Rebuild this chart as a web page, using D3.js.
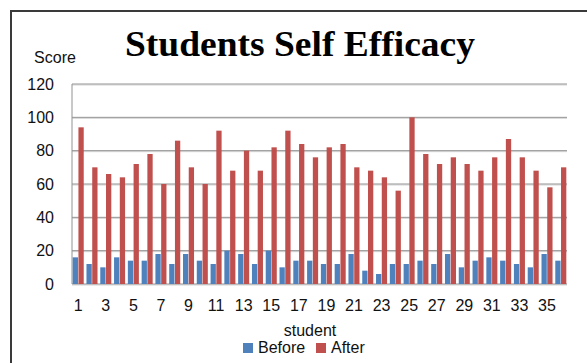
<!DOCTYPE html>
<html>
<head>
<meta charset="utf-8">
<script src="https://cdn.jsdelivr.net/npm/d3@7"></script>
<style>
body{margin:0;background:#fff;}
svg text{font-family:"Liberation Sans",Arial,sans-serif;fill:#111;}
</style>
</head>
<body>
<div id="chart"></div>
<script>
// data
var students = d3.range(1, 37);
var series = ["Before", "After"];
var before = [16,12,10,16,14,14,18,12,18,14,12,20,18,12,20,10,14,14,12,12,18,8,6,12,12,14,12,18,10,14,16,14,12,10,18,14];
var after  = [94,70,66,64,72,78,60,86,70,60,92,68,80,68,82,92,84,76,82,84,70,68,64,56,100,78,72,76,72,68,76,87,76,68,58,70];
var yTicks = [0,20,40,60,80,100,120];
var colors = ["#4f81bd", "#c0504d"];

var w = 587, h = 363;
var plot = {left:72, right:567, top:84, bottom:284};

var svg = d3.select("#chart").append("svg")
  .attr("width", w).attr("height", h);

// outer frame (runs off the right and bottom edge)
svg.append("rect")
  .attr("x", 11).attr("y", 11)
  .attr("width", 700).attr("height", 500)
  .attr("fill", "none")
  .attr("stroke", "#3a3a3a")
  .attr("stroke-width", 2);

var x0 = d3.scaleBand()
  .domain(students)
  .range([plot.left, plot.right])
  .paddingInner(0.2)
  .paddingOuter(0.05);

var x1 = d3.scaleBand()
  .domain(series)
  .range([0, x0.bandwidth()])
  .paddingInner(0.08);

var y = d3.scaleLinear()
  .domain([0, 120])
  .range([plot.bottom, plot.top]);

// gridlines
var grid = svg.append("g");
grid.selectAll("line.shadow")
  .data(yTicks)
  .enter().append("line")
  .attr("class", "shadow")
  .attr("x1", plot.left).attr("x2", plot.right)
  .attr("y1", function(d){ return y(d) + 1; })
  .attr("y2", function(d){ return y(d) + 1; })
  .attr("stroke", "#d4d4d4");
grid.selectAll("line.main")
  .data(yTicks)
  .enter().append("line")
  .attr("class", "main")
  .attr("x1", plot.left).attr("x2", plot.right)
  .attr("y1", function(d){ return y(d); })
  .attr("y2", function(d){ return y(d); })
  .attr("stroke", "#929292");

// y axis line
svg.append("line")
  .attr("x1", plot.left).attr("x2", plot.left)
  .attr("y1", y(120)).attr("y2", y(0))
  .attr("stroke", "#929292");

// bars
var groups = svg.selectAll("g.student")
  .data(students)
  .enter().append("g")
  .attr("class", "student")
  .attr("transform", function(d){ return "translate(" + x0(d) + ",0)"; });

groups.selectAll("rect")
  .data(function(d, i){ return [{s:"Before", v:before[i]}, {s:"After", v:after[i]}]; })
  .enter().append("rect")
  .attr("x", function(d){ return x1(d.s); })
  .attr("y", function(d){ return y(d.v); })
  .attr("width", x1.bandwidth())
  .attr("height", function(d){ return y(0) - y(d.v); })
  .attr("fill", function(d){ return colors[series.indexOf(d.s)]; });

// y axis labels
var yAxis = svg.append("g")
  .attr("transform", "translate(" + plot.left + ",0)")
  .call(d3.axisLeft(y).tickValues(yTicks).tickSize(0).tickPadding(18));
yAxis.select(".domain").remove();
yAxis.selectAll("text")
  .attr("font-size", 16)
  .attr("font-family", "Liberation Sans")
  .attr("fill", "#111");

// x axis labels, every other student
var xAxis = svg.append("g")
  .attr("transform", "translate(0," + plot.bottom + ")")
  .call(d3.axisBottom(x0)
    .tickValues(students.filter(function(d){ return d % 2 === 1; }))
    .tickSize(0).tickPadding(16));
xAxis.select(".domain").remove();
xAxis.selectAll("text")
  .attr("font-size", 16)
  .attr("font-family", "Liberation Sans")
  .attr("fill", "#111");

// title
svg.append("text")
  .attr("x", 125).attr("y", 56)
  .attr("textLength", 350)
  .attr("lengthAdjust", "spacingAndGlyphs")
  .style("font-family", "'Liberation Serif','Times New Roman',serif")
  .style("font-weight", "bold")
  .style("font-size", "35px")
  .style("fill", "#000")
  .text("Students Self Efficacy");

// axis titles
svg.append("text")
  .attr("x", 55).attr("y", 63)
  .attr("text-anchor", "middle")
  .attr("font-size", 16)
  .text("Score");

svg.append("text")
  .attr("x", 310).attr("y", 336)
  .attr("text-anchor", "middle")
  .attr("font-size", 16)
  .text("student");

// legend
var legendX = [243, 316];
var legend = svg.selectAll("g.legend")
  .data(series)
  .enter().append("g")
  .attr("class", "legend")
  .attr("transform", function(d, i){ return "translate(" + legendX[i] + ",343)"; });
legend.append("rect")
  .attr("width", 10).attr("height", 10)
  .attr("fill", function(d, i){ return colors[i]; });
legend.append("text")
  .attr("x", 15).attr("y", 10)
  .attr("font-size", 16)
  .text(function(d){ return d; });
</script>
</body>
</html>
